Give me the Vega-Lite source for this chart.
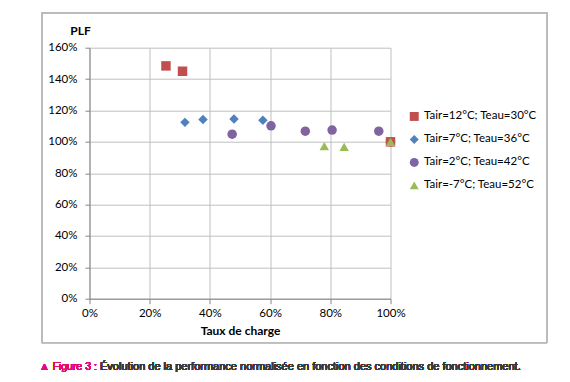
{
  "$schema": "https://vega.github.io/schema/vega-lite/v6.json",
  "autosize": "none",
  "width": 301,
  "height": 251,
  "padding": {"left": 89.5, "top": 47.7, "right": 179.5, "bottom": 83.3},
  "background": "white",
  "config": {
    "view": {"stroke": null},
    "font": "Lato",
    "axis": {"labelFont": "Lato", "titleFont": "Lato", "labelColor": "#000000", "titleColor": "#000000", "labelOverlap": false, "labelFlush": false}
  },
  "data": {"values": [
    {"series": "Tair=12°C; Teau=30°C", "taux": 0.254, "plf": 1.484},
    {"series": "Tair=12°C; Teau=30°C", "taux": 0.309, "plf": 1.45},
    {"series": "Tair=12°C; Teau=30°C", "taux": 1.0, "plf": 1.0},
    {"series": "Tair=7°C; Teau=36°C", "taux": 0.317, "plf": 1.124},
    {"series": "Tair=7°C; Teau=36°C", "taux": 0.377, "plf": 1.143},
    {"series": "Tair=7°C; Teau=36°C", "taux": 0.48, "plf": 1.145},
    {"series": "Tair=7°C; Teau=36°C", "taux": 0.576, "plf": 1.138},
    {"series": "Tair=7°C; Teau=36°C", "taux": 1.0, "plf": 1.0},
    {"series": "Tair=2°C; Teau=42°C", "taux": 0.474, "plf": 1.049},
    {"series": "Tair=2°C; Teau=42°C", "taux": 0.603, "plf": 1.102},
    {"series": "Tair=2°C; Teau=42°C", "taux": 0.717, "plf": 1.068},
    {"series": "Tair=2°C; Teau=42°C", "taux": 0.806, "plf": 1.075},
    {"series": "Tair=2°C; Teau=42°C", "taux": 0.961, "plf": 1.068},
    {"series": "Tair=2°C; Teau=42°C", "taux": 1.0, "plf": 1.0},
    {"series": "Tair=-7°C; Teau=52°C", "taux": 0.78, "plf": 0.973},
    {"series": "Tair=-7°C; Teau=52°C", "taux": 0.846, "plf": 0.968},
    {"series": "Tair=-7°C; Teau=52°C", "taux": 1.0, "plf": 1.0}
  ]},
  "layer": [
    {
      "mark": {"type": "point", "filled": true, "opacity": 1, "size": 90, "clip": false},
      "encoding": {
        "x": {
          "field": "taux", "type": "quantitative",
          "scale": {"domain": [0, 1], "nice": false, "zero": false},
          "axis": {"values": [0, 0.2, 0.4, 0.6, 0.8, 1.0], "format": ".0%", "title": "Taux de charge", "titleFontWeight": "bold", "titleFontSize": 12, "titlePadding": 6, "labelFontSize": 11.5, "labelPadding": 4, "tickSize": 5, "tickColor": "#868686", "domainColor": "#868686", "gridColor": "#bfbfbf", "grid": true}
        },
        "y": {
          "field": "plf", "type": "quantitative",
          "scale": {"domain": [0, 1.6], "nice": false, "zero": false},
          "axis": {"values": [0, 0.2, 0.4, 0.6, 0.8, 1.0, 1.2, 1.4, 1.6], "format": ".0%", "title": "PLF", "titleAngle": 0, "titleAlign": "center", "titleBaseline": "middle", "titleX": -9.5, "titleY": -17.7, "titleFontWeight": "bold", "titleFontSize": 12, "labelFontSize": 11.5, "labelPadding": 8, "tickSize": 4.5, "tickColor": "#868686", "domainColor": "#868686", "gridColor": "#bfbfbf", "grid": true}
        },
        "color": {
          "field": "series", "type": "nominal",
          "scale": {
            "domain": ["Tair=12°C; Teau=30°C", "Tair=7°C; Teau=36°C", "Tair=2°C; Teau=42°C", "Tair=-7°C; Teau=52°C"],
            "range": ["#c0504d", "#4f81bd", "#8064a2", "#9bbb59"]
          },
          "legend": {
            "title": null,
            "orient": "none",
            "legendX": 319,
            "legendY": 63,
            "labelFontSize": 11.5,
            "labelFont": "Lato",
            "labelColor": "#000000",
            "rowPadding": 10,
            "symbolSize": 80,
            "labelOffset": 4
          }
        },
        "shape": {
          "field": "series", "type": "nominal",
          "scale": {
            "domain": ["Tair=12°C; Teau=30°C", "Tair=7°C; Teau=36°C", "Tair=2°C; Teau=42°C", "Tair=-7°C; Teau=52°C"],
            "range": ["square", "diamond", "circle", "triangle-up"]
          }
        },
        "order": {"field": "series", "sort": "descending"}
      }
    },
    {
      "mark": {"type": "rect", "fill": null, "stroke": "#bcbcbc", "strokeWidth": 1, "clip": false},
      "encoding": {
        "x": {"datum": -0.1587, "type": "quantitative",
          "axis": {"values": [0, 0.2, 0.4, 0.6, 0.8, 1.0], "format": ".0%", "title": "Taux de charge", "titleFontWeight": "bold", "titleFontSize": 12, "titlePadding": 6, "labelFontSize": 11.5, "labelPadding": 4, "tickSize": 5, "tickColor": "#868686", "domainColor": "#868686", "gridColor": "#bfbfbf", "grid": true}},
        "x2": {"datum": 1.52},
        "y": {"datum": 1.8229, "type": "quantitative",
          "axis": {"values": [0, 0.2, 0.4, 0.6, 0.8, 1.0, 1.2, 1.4, 1.6], "format": ".0%", "title": "PLF", "titleAngle": 0, "titleAlign": "center", "titleBaseline": "middle", "titleX": -9.5, "titleY": -17.7, "titleFontWeight": "bold", "titleFontSize": 12, "labelFontSize": 11.5, "labelPadding": 8, "tickSize": 4.5, "tickColor": "#868686", "domainColor": "#868686", "gridColor": "#bfbfbf", "grid": true}},
        "y2": {"datum": -0.2801}
      }
    },
    {
      "mark": {"type": "text", "align": "left", "baseline": "middle", "font": "Liberation Sans", "fontSize": 10.5, "fontWeight": "normal", "color": "#e4097a", "clip": false},
      "encoding": {
        "x": {"datum": -0.1673, "type": "quantitative",
          "axis": {"values": [0, 0.2, 0.4, 0.6, 0.8, 1.0], "format": ".0%", "title": "Taux de charge", "titleFontWeight": "bold", "titleFontSize": 12, "titlePadding": 6, "labelFontSize": 11.5, "labelPadding": 4, "tickSize": 5, "tickColor": "#868686", "domainColor": "#868686", "gridColor": "#bfbfbf", "grid": true}},
        "y": {"datum": -0.433, "type": "quantitative",
          "axis": {"values": [0, 0.2, 0.4, 0.6, 0.8, 1.0, 1.2, 1.4, 1.6], "format": ".0%", "title": "PLF", "titleAngle": 0, "titleAlign": "center", "titleBaseline": "middle", "titleX": -9.5, "titleY": -17.7, "titleFontWeight": "bold", "titleFontSize": 12, "labelFontSize": 11.5, "labelPadding": 8, "tickSize": 4.5, "tickColor": "#868686", "domainColor": "#868686", "gridColor": "#bfbfbf", "grid": true}},
        "text": {"value": "▲ Figure 3 :"}
      }
    },
    {
      "mark": {"type": "text", "align": "left", "baseline": "middle", "font": "Liberation Sans", "fontSize": 11, "fontWeight": "normal", "color": "#3a3a3a", "clip": false},
      "encoding": {
        "x": {"datum": 0.0349, "type": "quantitative",
          "axis": {"values": [0, 0.2, 0.4, 0.6, 0.8, 1.0], "format": ".0%", "title": "Taux de charge", "titleFontWeight": "bold", "titleFontSize": 12, "titlePadding": 6, "labelFontSize": 11.5, "labelPadding": 4, "tickSize": 5, "tickColor": "#868686", "domainColor": "#868686", "gridColor": "#bfbfbf", "grid": true}},
        "y": {"datum": -0.433, "type": "quantitative",
          "axis": {"values": [0, 0.2, 0.4, 0.6, 0.8, 1.0, 1.2, 1.4, 1.6], "format": ".0%", "title": "PLF", "titleAngle": 0, "titleAlign": "center", "titleBaseline": "middle", "titleX": -9.5, "titleY": -17.7, "titleFontWeight": "bold", "titleFontSize": 12, "labelFontSize": 11.5, "labelPadding": 8, "tickSize": 4.5, "tickColor": "#868686", "domainColor": "#868686", "gridColor": "#bfbfbf", "grid": true}},
        "text": {"value": "Évolution de la performance normalisée en fonction des conditions de fonctionnement."}
      }
    }
  ]
}
